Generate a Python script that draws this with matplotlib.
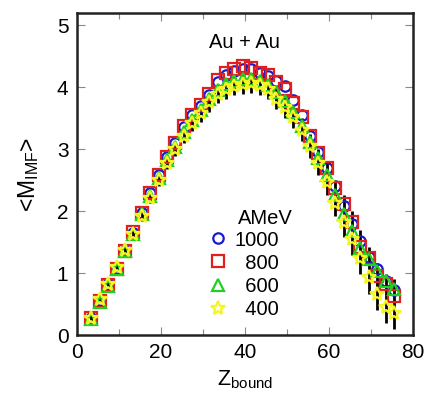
import numpy as np
import matplotlib
matplotlib.use("Agg")
import matplotlib.pyplot as plt

plt.rcParams['font.family'] = ['Liberation Sans', 'DejaVu Sans']
plt.rcParams['mathtext.fontset'] = 'custom'
plt.rcParams['mathtext.rm'] = 'Liberation Sans'
plt.rcParams['mathtext.it'] = 'Liberation Sans'

z_bound = [3.5, 5.5, 7.5, 9.5, 11.5, 13.5, 15.5, 17.5, 19.5, 21.5, 23.5, 25.5,
           27.5, 29.5, 31.5, 33.5, 35.5, 37.5, 39.5, 41.5, 43.5, 45.5, 47.5,
           49.5, 51.5, 53.5, 55.5, 57.5, 59.5, 61.5, 63.5, 65.5, 67.5, 69.5,
           71.5, 73.5, 75.5]

m_1000 = [0.28, 0.56, 0.82, 1.08, 1.36, 1.65, 1.97, 2.30, 2.58, 2.87, 3.10, 3.36,
          3.55, 3.70, 3.88, 4.08, 4.20, 4.26, 4.30, 4.29, 4.24, 4.18, 4.10,
          4.02, 3.80, 3.55, 3.22, 2.95, 2.70, 2.40, 2.09, 1.80, 1.52, 1.26,
          1.06, 0.88, 0.72]

m_800 = [0.27, 0.55, 0.81, 1.07, 1.36, 1.66, 1.97, 2.30, 2.58, 2.88, 3.10, 3.37,
         3.56, 3.72, 3.90, 4.12, 4.24, 4.30, 4.34, 4.32, 4.24, 4.20, 4.09,
         3.98, 3.74, 3.52, 3.22, 2.94, 2.70, 2.38, 2.11, 1.82, 1.42, 1.24,
         0.95, 0.82, 0.63]

m_600 = [0.26, 0.54, 0.80, 1.07, 1.36, 1.64, 1.95, 2.25, 2.53, 2.82, 3.04, 3.28,
         3.48, 3.64, 3.82, 3.96, 4.05, 4.10, 4.13, 4.13, 4.10, 4.04, 3.92,
         3.78, 3.60, 3.38, 3.12, 2.86, 2.58, 2.27, 1.95, 1.68, 1.40, 1.23,
         1.04, 0.87, 0.75]

m_400 = [0.28, 0.58, 0.83, 1.10, 1.37, 1.63, 1.93, 2.22, 2.50, 2.78, 3.00, 3.22,
         3.42, 3.58, 3.76, 3.90, 3.98, 4.03, 4.06, 4.07, 4.04, 3.98, 3.82,
         3.68, 3.52, 3.32, 3.05, 2.78, 2.48, 2.14, 1.82, 1.55, 1.25, 0.93,
         0.66, 0.46, 0.36]

err_400_lo = [0.05, 0.05, 0.06, 0.06, 0.07, 0.07, 0.08, 0.08, 0.09, 0.10, 0.11,
              0.12, 0.13, 0.14, 0.15, 0.15, 0.16, 0.16, 0.16, 0.16, 0.16, 0.16,
              0.17, 0.17, 0.18, 0.18, 0.19, 0.20, 0.21, 0.22, 0.24, 0.25, 0.26,
              0.26, 0.26, 0.27, 0.27]
err_400_hi = [0.05, 0.05, 0.06, 0.06, 0.07, 0.07, 0.08, 0.08, 0.09, 0.10, 0.11,
              0.12, 0.13, 0.14, 0.15, 0.15, 0.16, 0.16, 0.16, 0.16, 0.16, 0.16,
              0.17, 0.17, 0.18, 0.18, 0.19, 0.22, 0.30, 0.35, 0.45, 0.45, 0.45,
              0.50, 0.50, 0.52, 0.55]

energies = ['1000', '  800', '  600', '  400']

fig = plt.figure(figsize=(4.36, 3.97), dpi=100)
ax = fig.add_axes([0.176, 0.156, 0.771, 0.811])

ax.errorbar(z_bound, m_400, yerr=[err_400_lo, err_400_hi], fmt='none',
            ecolor='black', elinewidth=2.0, capsize=0, zorder=1)

ax.plot(z_bound, m_1000, linestyle='none', marker='o', markersize=7.5,
        markerfacecolor='none', markeredgecolor='#1a1acc', markeredgewidth=1.6,
        label=energies[0], zorder=2)
ax.plot(z_bound, m_800, linestyle='none', marker='s', markersize=8,
        markerfacecolor='none', markeredgecolor='#e02020', markeredgewidth=1.6,
        label=energies[1], zorder=3)
ax.plot(z_bound, m_600, linestyle='none', marker='^', markersize=8,
        markerfacecolor='none', markeredgecolor='#20d020', markeredgewidth=1.6,
        label=energies[2], zorder=4)
ax.plot(z_bound, m_400, linestyle='none', marker='*', markersize=10,
        markerfacecolor='none', markeredgecolor='#f5f520', markeredgewidth=1.6,
        label=energies[3], zorder=5)

ax.set_xlim(0, 80)
ax.set_ylim(0, 5.2)
ax.set_xticks([0, 20, 40, 60, 80])
ax.set_xticks([10, 30, 50, 70], minor=True)
ax.set_yticks([0, 1, 2, 3, 4, 5])

ax.tick_params(axis='both', which='both', direction='in', top=True, right=True,
               color='#888888', labelsize=15, pad=6)
ax.tick_params(which='major', length=6, width=0.8)
ax.tick_params(which='minor', length=4, width=0.8)
for s in ax.spines.values():
    s.set_linewidth(1.8)
    s.set_color('#222222')

ax.set_xlabel(r'Z$_{\mathregular{bound}}$', fontsize=15.5, labelpad=4)
ax.set_ylabel(r'<M$_{\mathregular{IMF}}$>', fontsize=16.5, labelpad=11)

ax.text(40, 4.72, 'Au + Au', ha='center', va='center', fontsize=14.5)
ax.text(44.8, 1.89, 'AMeV', ha='center', va='center', fontsize=14.5)

leg = ax.legend(loc='upper left', bbox_to_anchor=(0.366, 0.356), frameon=False,
                fontsize=14.5, handlelength=0.8, handletextpad=0.4,
                labelspacing=0.2, borderpad=0.0, markerfirst=True)

fig.savefig('out.png', dpi=100)
